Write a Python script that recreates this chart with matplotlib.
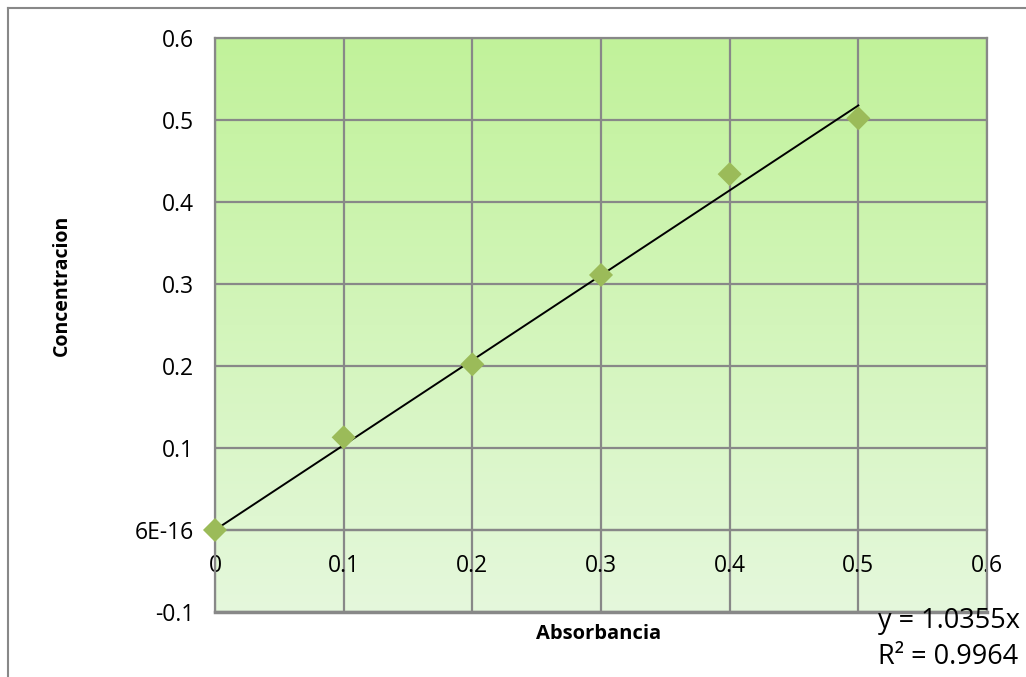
import numpy as np
import matplotlib
matplotlib.use("Agg")
import matplotlib.pyplot as plt
from matplotlib.colors import LinearSegmentedColormap
from matplotlib.lines import Line2D

absorbancia = [0.0, 0.1, 0.2, 0.3, 0.4, 0.5]
concentracion = [0.0, 0.113, 0.202, 0.311, 0.434, 0.502]
slope = 1.0355
r2 = 0.9964
y_ticks = [-0.1, 0.0, 0.1, 0.2, 0.3, 0.4, 0.5, 0.6]
y_tick_labels = ["-0.1", "6E-16", "0.1", "0.2", "0.3", "0.4", "0.5", "0.6"]
x_ticks = [0.0, 0.1, 0.2, 0.3, 0.4, 0.5, 0.6]
x_tick_labels = ["0", "0.1", "0.2", "0.3", "0.4", "0.5", "0.6"]

plt.rcParams['font.family'] = ['Open Sans', 'DejaVu Sans']

fig = plt.figure(figsize=(10.26, 6.77), dpi=100)
ax = fig.add_axes([215/1026, 1-612/677, (987-215)/1026, (612-38)/677])

grad = LinearSegmentedColormap.from_list("g", ["#e5f8dc", "#c1f29a"])
ax.imshow(np.linspace(0, 1, 256).reshape(-1, 1), cmap=grad, origin="lower",
          extent=[0, 1, 0, 1], transform=ax.transAxes, aspect="auto", zorder=0)

ax.set_xlim(0, 0.6)
ax.set_ylim(-0.1, 0.6)
grid_c = "#888888"
ax.set_axisbelow(True)
ax.grid(True, color=grid_c, linewidth=1.6, zorder=0.5)

ax.set_xticks(x_ticks)
ax.set_xticklabels(x_tick_labels)
ax.set_yticks(y_ticks)
ax.set_yticklabels(y_tick_labels)
ax.tick_params(axis="both", length=0, labelsize=16.5, colors="black")
ax.tick_params(axis="y", pad=15)
ax.tick_params(axis="x", pad=17)
ax.spines['bottom'].set_position(('data', 0))
for s in ax.spines.values():
    s.set_color(grid_c)
    s.set_linewidth(1.6)
ax.axhline(-0.1, color=grid_c, linewidth=2.5, clip_on=False, zorder=1)

xfit = np.array([absorbancia[0], absorbancia[-1]])
ax.plot(xfit, slope * xfit, color="black", linewidth=1.4, zorder=3)
ax.scatter(absorbancia, concentracion, marker="D", s=150, color="#9bbb59",
           edgecolors="none", zorder=4, clip_on=False)

fig.text(599/1026, 1-634/677, "Absorbancia", ha="center", va="center",
         fontsize=14.5, fontweight="bold")
fig.text(62/1026, 1-285/677, "Concentracion", ha="center", va="center",
         fontsize=14, fontweight="bold", rotation=90)

fig.text(878/1026, 1-621/677, f"y = {slope}x", ha="left", va="center", fontsize=19.5)
fig.text(878/1026, 1-657/677, f"R² = {r2}", ha="left", va="center", fontsize=19.5)

fig.add_artist(Line2D([8/1026, 8/1026], [0, 1-8/677], color="#888888", linewidth=1.5))
fig.add_artist(Line2D([8/1026, 1], [1-8/677, 1-8/677], color="#888888", linewidth=1.5))

fig.savefig("out.png", dpi=100)
